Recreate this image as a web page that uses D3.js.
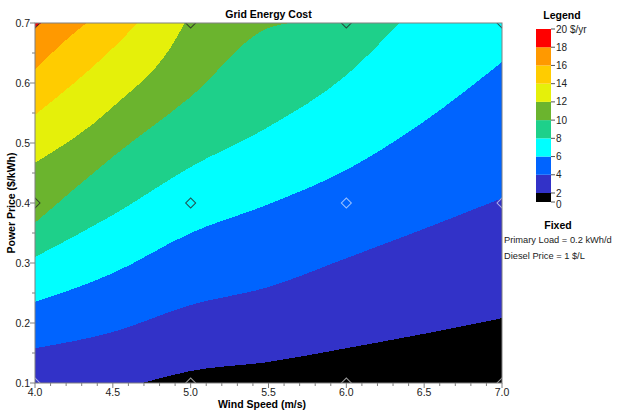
<!DOCTYPE html>
<html lang="en">
<head>
    <meta charset="utf-8">
    <title>Grid Energy Cost</title>
    <script src="https://d3js.org/d3.v7.min.js" charset="utf-8"></script>
    <style type="text/css">
        body { margin: 0; background: #fff; }
        text { font-family: "Liberation Sans", Arial, sans-serif; fill: #222; }
        .title { font-weight: bold; font-size: 10.5px; fill: #000; }
    </style>
</head>
<body>
	<svg width="619" height="412"></svg>
	<script>

	    // axis ticks
	    var windTicks = [4.0, 4.5, 5.0, 5.5, 6.0, 6.5, 7.0],
	        priceTicks = [0.1, 0.2, 0.3, 0.4, 0.5, 0.6, 0.7];

	    // legend levels ($/yr) and band colours (band i = levels[i]..levels[i+1])
	    var legendLevels = [0, 2, 4, 6, 8, 10, 12, 14, 16, 18, 20];
	    var bandColors = ["#000000", "#3232c8", "#0064ff", "#00ffff", "#1ed08a",
	                      "#6bb42e", "#e5f00a", "#ffcc00", "#ff9900", "#ff0000"];

	    // contour lines: [wind speed, power price] where cost = level
	    var iso2  = [[4.69, 0.1], [5.0, 0.12], [5.5, 0.135], [6.0, 0.158], [6.5, 0.182], [7.0, 0.208]],
	        iso4  = [[4.0, 0.158], [4.5, 0.185], [5.0, 0.23], [5.5, 0.26], [6.0, 0.308], [6.5, 0.357], [7.0, 0.408]],
	        iso6  = [[4.0, 0.235], [4.5, 0.283], [5.0, 0.35], [5.5, 0.398], [6.0, 0.455], [6.5, 0.536], [7.0, 0.635]],
	        iso8  = [[4.0, 0.31], [4.5, 0.38], [5.0, 0.46], [5.5, 0.527], [6.0, 0.613], [6.34, 0.7]],
	        iso10 = [[4.0, 0.367], [4.5, 0.477], [5.0, 0.577], [5.5, 0.692], [5.64, 0.7]],
	        iso12 = [[4.0, 0.467], [4.5, 0.56], [4.93, 0.685], [4.96, 0.7]],
	        iso14 = [[4.0, 0.547], [4.5, 0.658], [4.66, 0.7]],
	        iso16 = [[4.0, 0.622], [4.17, 0.665], [4.33, 0.7]],
	        iso18 = [[4.0, 0.693], [4.045, 0.7]];
	    var isolines = [iso2, iso4, iso6, iso8, iso10, iso12, iso14, iso16, iso18];

	    // sensitivity sample points (diamonds)
	    var sampleWind = [4, 5, 6, 7],
	        samplePrice = [0.1, 0.4, 0.7];

	    var fixedLabels = ["Primary Load = 0.2 kWh/d", "Diesel Price = 1 $/L"];

	    var svg = d3.select("svg"),
	        plotL = 35, plotR = 502, plotT = 23, plotB = 383;

	    var xScale = d3.scaleLinear().domain([4, 7]).range([plotL, plotR]),
	        yScale = d3.scaleLinear().domain([0.1, 0.7]).range([plotB, plotT]);

	    svg.append("clipPath").attr("id", "plotClip")
	       .append("rect")
	       .attr("x", plotL).attr("y", plotT)
	       .attr("width", plotR - plotL).attr("height", plotB - plotT);

	    var plot = svg.append("g").attr("clip-path", "url(#plotClip)");

	    plot.append("rect")
	        .attr("x", plotL).attr("y", plotT)
	        .attr("width", plotR - plotL).attr("height", plotB - plotT)
	        .attr("fill", bandColors[0]);

	    var line = d3.line()
	        .x(function(d) { return xScale(d[0]); })
	        .y(function(d) { return yScale(d[1]); })
	        .curve(d3.curveMonotoneX);

	    // region above/left of a contour line
	    function regionAbove(pts) {
	        var first = pts[0], last = pts[pts.length - 1], extra = [];
	        if (last[0] >= 7 && last[1] < 0.7) extra.push([7, 0.7]);
	        extra.push([4, 0.7]);
	        if (first[0] > 4) extra.push([4, 0.1]);
	        return line(pts) + extra.map(function(p) {
	            return "L" + xScale(p[0]) + "," + yScale(p[1]);
	        }).join("") + "Z";
	    }

	    plot.selectAll("path.band")
	        .data(isolines)
	        .enter().append("path")
	        .attr("class", "band")
	        .attr("d", regionAbove)
	        .attr("shape-rendering", "crispEdges")
	        .attr("fill", function(d, i) { return bandColors[i + 1]; });

	    // which band a point falls in
	    function bandAt(w, p) {
	        var b = 0;
	        isolines.forEach(function(pts) {
	            var f = pts[0], l = pts[pts.length - 1];
	            if (w < f[0]) { b++; return; }
	            if (w > l[0]) return;
	            var bp = l[1];
	            for (var k = 1; k < pts.length; k++) {
	                if (w <= pts[k][0]) {
	                    var t = (w - pts[k - 1][0]) / (pts[k][0] - pts[k - 1][0] || 1);
	                    bp = pts[k - 1][1] + t * (pts[k][1] - pts[k - 1][1]);
	                    break;
	                }
	            }
	            if (w === f[0]) bp = f[1];
	            if (p > bp) b++;
	        });
	        return b;
	    }

	    var samples = [];
	    samplePrice.forEach(function(p) {
	        sampleWind.forEach(function(w) { samples.push([w, p]); });
	    });

	    plot.selectAll("path.sample")
	        .data(samples)
	        .enter().append("path")
	        .attr("class", "sample")
	        .attr("d", d3.symbol(d3.symbolSquare, 50))
	        .attr("transform", function(d) {
	            return "translate(" + xScale(d[0]) + "," + yScale(d[1]) + ") rotate(45)";
	        })
	        .attr("fill", "none")
	        .attr("stroke-width", 1)
	        .attr("stroke", function(d) {
	            return bandAt(d[0], d[1]) <= 2 ? "rgba(255,255,255,0.6)" : "rgba(40,40,40,0.8)";
	        });

	    // frame
	    svg.append("rect")
	       .attr("x", plotL).attr("y", plotT)
	       .attr("width", plotR - plotL).attr("height", plotB - plotT)
	       .attr("fill", "none").attr("stroke", "#808080");

	    // x axis
	    var xAxis = svg.append("g").attr("transform", "translate(0," + plotB + ")");
	    xAxis.selectAll("line.minor")
	         .data(d3.range(40, 71).map(function(v) { return v / 10; }))
	         .enter().append("line")
	         .attr("x1", function(d) { return xScale(d); })
	         .attr("x2", function(d) { return xScale(d); })
	         .attr("y1", 0)
	         .attr("y2", function(d, i) { return i % 5 === 0 ? 5 : 3; })
	         .attr("stroke", "#808080");
	    xAxis.selectAll("text")
	         .data(windTicks)
	         .enter().append("text")
	         .attr("x", function(d) { return xScale(d); })
	         .attr("y", 13)
	         .attr("text-anchor", "middle")
	         .attr("font-size", "10.5px")
	         .text(function(d) { return d.toFixed(1); });

	    // y axis
	    var yAxis = svg.append("g").attr("transform", "translate(" + plotL + ",0)");
	    yAxis.selectAll("line.minor")
	         .data(d3.range(2, 15).map(function(v) { return v / 20; }))
	         .enter().append("line")
	         .attr("x1", 0)
	         .attr("x2", function(d, i) { return i % 2 === 0 ? -5 : -3; })
	         .attr("y1", function(d) { return yScale(d); })
	         .attr("y2", function(d) { return yScale(d); })
	         .attr("stroke", "#808080");
	    yAxis.selectAll("text")
	         .data(priceTicks)
	         .enter().append("text")
	         .attr("x", -5)
	         .attr("y", function(d) { return yScale(d); })
	         .attr("dy", "0.35em")
	         .attr("text-anchor", "end")
	         .attr("font-size", "10.5px")
	         .text(function(d) { return d.toFixed(1); });

	    // titles
	    svg.append("text").attr("class", "title")
	       .attr("x", (plotL + plotR) / 2).attr("y", 18)
	       .attr("text-anchor", "middle").text("Grid Energy Cost");
	    svg.append("text").attr("class", "title")
	       .attr("x", 262).attr("y", 408)
	       .attr("text-anchor", "middle").text("Wind Speed (m/s)");
	    svg.append("text").attr("class", "title")
	       .attr("transform", "translate(15," + ((plotT + plotB) / 2) + ") rotate(-90)")
	       .attr("text-anchor", "middle").text("Power Price ($/kWh)");

	    // legend
	    var legendScale = d3.scaleLinear().domain([0, 2, 20]).range([202, 193, 29]),
	        barX = 536, barW = 15;

	    svg.append("text").attr("class", "title")
	       .attr("x", 562).attr("y", 19)
	       .attr("text-anchor", "middle").text("Legend");

	    var legend = svg.append("g");
	    legend.selectAll("rect")
	          .data(bandColors)
	          .enter().append("rect")
	          .attr("x", barX)
	          .attr("width", barW)
	          .attr("y", function(d, i) { return legendScale(legendLevels[i + 1]); })
	          .attr("height", function(d, i) {
	              return legendScale(legendLevels[i]) - legendScale(legendLevels[i + 1]);
	          })
	          .attr("fill", function(d) { return d; });
	    legend.selectAll("line")
	          .data(legendLevels)
	          .enter().append("line")
	          .attr("x1", barX + barW).attr("x2", barX + barW + 4)
	          .attr("y1", function(d) { return legendScale(d); })
	          .attr("y2", function(d) { return legendScale(d); })
	          .attr("stroke", "#555");
	    legend.selectAll("text")
	          .data(legendLevels)
	          .enter().append("text")
	          .attr("x", barX + barW + 5)
	          .attr("y", function(d) { return legendScale(d); })
	          .attr("dy", function(d) { return d === 0 ? "0.6em" : "0.35em"; })
	          .attr("font-size", "10px")
	          .text(function(d) { return d === 20 ? d + " $/yr" : d; });

	    svg.append("text").attr("class", "title")
	       .attr("x", 558).attr("y", 229)
	       .attr("text-anchor", "middle").text("Fixed");
	    svg.selectAll("text.fixed")
	       .data(fixedLabels)
	       .enter().append("text")
	       .attr("class", "fixed")
	       .attr("x", 504)
	       .attr("y", function(d, i) { return 243 + i * 16; })
	       .attr("font-size", "9.3px")
	       .text(function(d) { return d; });

	</script>
</body>
</html>
